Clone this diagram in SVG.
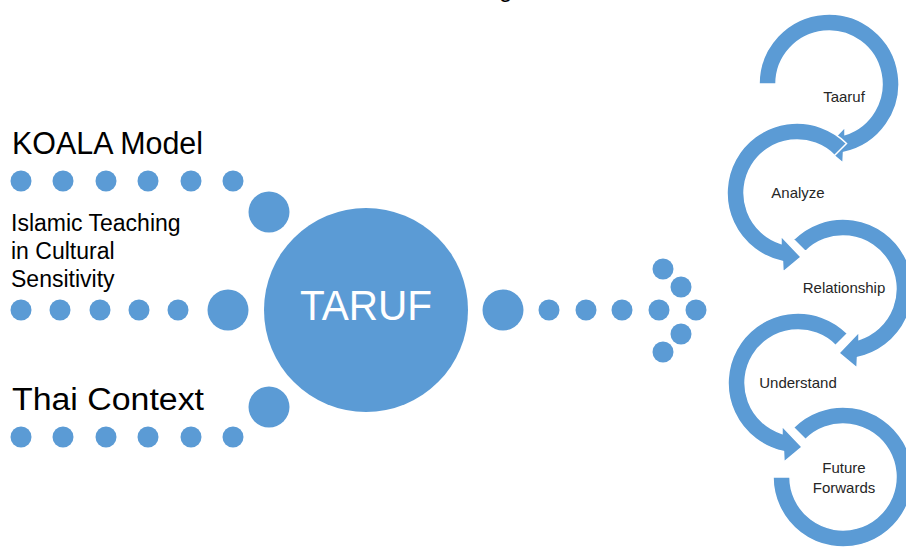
<svg xmlns="http://www.w3.org/2000/svg" width="906" height="548" viewBox="0 0 906 548">
<style>
.dot{fill:#5B9BD5}
.arc{fill:#5B9BD5;stroke:#FFFFFF;stroke-width:1.5;stroke-linejoin:miter}
.lbl{font-family:"Liberation Sans",Arial,sans-serif;fill:#000}
.clbl{font-family:"Liberation Sans",Arial,sans-serif;font-size:15px;fill:#262626;text-anchor:middle}
</style>
<rect width="906" height="548" fill="#FFFFFF"/>
<text class="lbl" x="499" y="-3" font-size="24">g</text>

<g id="connectors">
  <g id="row-koala">
    <circle class="dot" cx="21" cy="181" r="10.5"/>
    <circle class="dot" cx="63" cy="181" r="10.5"/>
    <circle class="dot" cx="106" cy="181" r="10.5"/>
    <circle class="dot" cx="148" cy="181" r="10.5"/>
    <circle class="dot" cx="191" cy="181" r="10.5"/>
    <circle class="dot" cx="233" cy="181" r="10.5"/>
    <circle class="dot" cx="269" cy="212" r="20.5"/>
  </g>
  <g id="row-islamic">
    <circle class="dot" cx="21" cy="310" r="10.5"/>
    <circle class="dot" cx="60" cy="310" r="10.5"/>
    <circle class="dot" cx="100" cy="310" r="10.5"/>
    <circle class="dot" cx="139" cy="310" r="10.5"/>
    <circle class="dot" cx="178" cy="310" r="10.5"/>
    <circle class="dot" cx="228" cy="310" r="20.5"/>
  </g>
  <g id="row-thai">
    <circle class="dot" cx="21" cy="437" r="10.5"/>
    <circle class="dot" cx="63" cy="437" r="10.5"/>
    <circle class="dot" cx="106" cy="437" r="10.5"/>
    <circle class="dot" cx="148" cy="437" r="10.5"/>
    <circle class="dot" cx="191" cy="437" r="10.5"/>
    <circle class="dot" cx="233" cy="437" r="10.5"/>
    <circle class="dot" cx="269" cy="407" r="20.5"/>
  </g>
  <g id="arrow-out">
    <circle class="dot" cx="503" cy="310" r="20.5"/>
    <circle class="dot" cx="549" cy="310" r="10.5"/>
    <circle class="dot" cx="586" cy="310" r="10.5"/>
    <circle class="dot" cx="622" cy="310" r="10.5"/>
    <circle class="dot" cx="659" cy="310" r="10.5"/>
    <circle class="dot" cx="696" cy="310" r="10.5"/>
    <circle class="dot" cx="663" cy="269" r="10.5"/>
    <circle class="dot" cx="681" cy="287" r="10.5"/>
    <circle class="dot" cx="681" cy="334" r="10.5"/>
    <circle class="dot" cx="663" cy="352" r="10.5"/>
  </g>
</g>

<g id="koala">
  <text class="lbl" x="12" y="154" font-size="31" textLength="191" lengthAdjust="spacingAndGlyphs">KOALA Model</text>
</g>
<g id="islamic">
  <text class="lbl" x="11" y="231" font-size="23">Islamic Teaching</text>
  <text class="lbl" x="11" y="259" font-size="23">in Cultural</text>
  <text class="lbl" x="11" y="287" font-size="23">Sensitivity</text>
</g>
<g id="thai">
  <text class="lbl" x="12" y="410" font-size="31" textLength="192" lengthAdjust="spacingAndGlyphs">Thai Context</text>
</g>

<g id="taruf">
  <circle cx="366" cy="310" r="102" fill="#5B9BD5"/>
  <text x="366" y="320" font-family="'Liberation Sans',Arial,sans-serif" font-size="42" fill="#FFFFFF" text-anchor="middle" textLength="132" lengthAdjust="spacingAndGlyphs">TARUF</text>
</g>

<g id="step-taaruf" transform="translate(829,84)">
  <path class="arc" d="M-70,0 A70,70 0 1 1 14.5,68.5 L14,79 L-4,64 L16,43 L16,50.5 A53,53 0 1 0 -53,0 Z"/>
  <text class="clbl" x="15" y="18">Taaruf</text>
</g>
<g id="step-analyze" transform="translate(797,193)">
  <path class="arc" d="M49.5,-49.5 A70,70 0 1 0 -14.5,68.5 L-14,79 L4,64 L-16,43 L-16,50.5 A53,53 0 1 1 37.5,-37.5 Z"/>
  <text class="clbl" x="1" y="5">Analyze</text>
</g>
<g id="step-relationship" transform="translate(843,289)">
  <path class="arc" d="M-49.5,-49.5 A70,70 0 1 1 14.5,68.5 L14,79 L-4,64 L16,43 L16,50.5 A53,53 0 1 0 -37.5,-37.5 Z"/>
  <text class="clbl" x="1" y="4">Relationship</text>
</g>
<g id="step-understand" transform="translate(798,383)">
  <path class="arc" d="M49.5,-49.5 A70,70 0 1 0 -14.5,68.5 L-14,79 L4,64 L-16,43 L-16,50.5 A53,53 0 1 1 37.5,-37.5 Z"/>
  <text class="clbl" x="0" y="5">Understand</text>
</g>
<g id="step-future" transform="translate(843,477)">
  <path class="arc" d="M-49.5,-49.5 A70,70 0 1 1 -70,0 L-53,0 A53,53 0 1 0 -37.5,-37.5 Z"/>
  <text class="clbl" x="1" y="-4">Future</text>
  <text class="clbl" x="1" y="16">Forwards</text>
</g>
</svg>
